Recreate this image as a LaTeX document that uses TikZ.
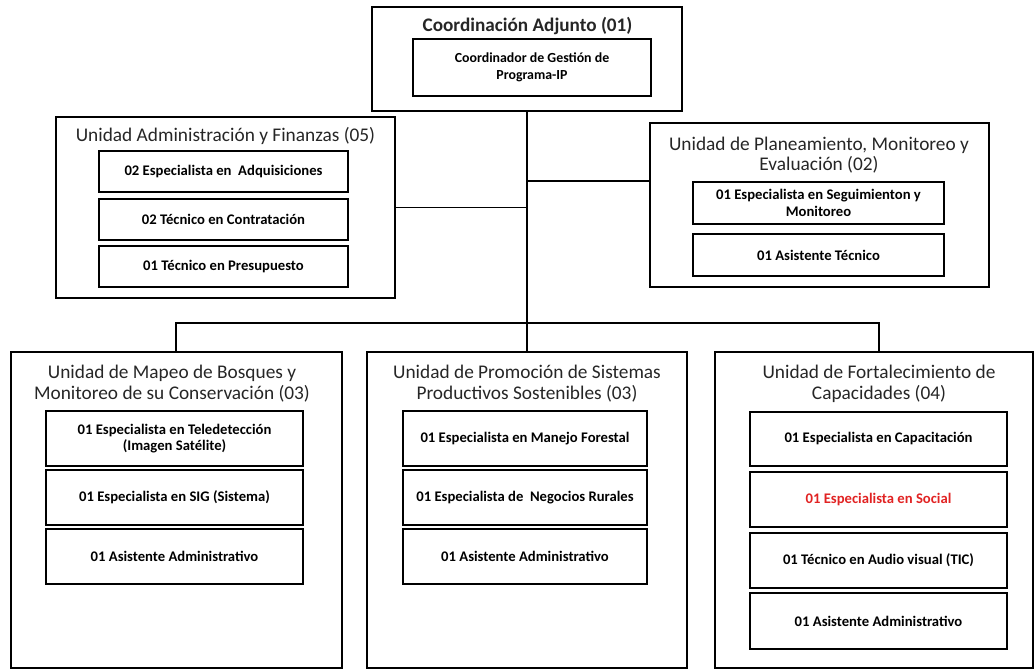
\documentclass[tikz,border=0pt]{standalone}
\usepackage{fontspec}
\setmainfont{Carlito}
\usetikzlibrary{calc}

\tikzset{
  unit/.style 2 args={draw,line width=0.9pt,minimum width=#1*0.75pt,minimum height=#2*0.75pt,inner sep=0pt},
  post/.style 2 args={draw,line width=0.9pt,minimum width=#1*0.75pt,minimum height=#2*0.75pt,inner sep=0pt,
    align=center,font=\fontsize{11}{12.5}\selectfont\bfseries},
  head/.style={align=center,text=black!85,font=\fontsize{14.5}{15.5}\selectfont},
}

\begin{document}
\begin{tikzpicture}[x=0.75pt,y=-0.75pt]

\useasboundingbox (0,0) rectangle (1035,671);

\coordinate (cBusL) at (176,323);
\coordinate (cBusR) at (879,323);
\coordinate (cPlan) at (650,181);

\node[unit={310}{104}] (C) at (527,59) {};
\node[unit={339}{181}] (A) at (225.5,207.5) {};
\node[unit={339}{164}] (P) at (819.5,205) {};
\node[unit={331}{316}] (M) at (176.5,510) {};
\node[unit={320}{316}] (S) at (527,510) {};
\node[unit={318}{316}] (F) at (874,510) {};

\node[head,font=\fontsize{14.4}{15.5}\selectfont\bfseries] (Ct) at (527.5,26) {Coordinación Adjunto (01)};
\node[head] (At) at (225.5,136) {Unidad Administración y Finanzas (05)};
\node[head] (Pt) at (819,155) {Unidad de Planeamiento, Monitoreo y\\Evaluación (02)};
\node[head] (Mt) at (172,383.5) {Unidad de Mapeo de Bosques y\\Monitoreo de su Conservación (03)};
\node[head] (St) at (527,383.5) {Unidad de Promoción de Sistemas\\Productivos Sostenibles (03)};
\node[head] (Ft) at (879,384) {Unidad de Fortalecimiento de\\Capacidades (04)};

\node[post={238}{57},font=\fontsize{10.4}{12.5}\selectfont\bfseries] (C1) at (532,67.5) {Coordinador de Gestión de\\Programa-IP};

\node[post={249}{41}] (A1) at (223.5,171.5) {02 Especialista en \ Adquisiciones};
\node[post={249}{41}] (A2) at (223.5,219.5) {02 Técnico en Contratación};
\node[post={249}{41}] (A3) at (223.5,266.5) {01 Técnico en Presupuesto};

\node[post={251}{42}] (P1) at (818.5,203) {01 Especialista en Seguimienton y\\Monitoreo};
\node[post={251}{42}] (P2) at (818.5,255) {01 Asistente Técnico};

\node[post={257}{55}] (M1) at (174.5,438.5) {01 Especialista en Teledetección\\(Imagen Satélite)};
\node[post={257}{55}] (M2) at (174.5,497.5) {01 Especialista en SIG (Sistema)};
\node[post={257}{55}] (M3) at (174.5,556.5) {01 Asistente Administrativo};

\node[post={244}{55}] (S1) at (525,438.5) {01 Especialista en Manejo Forestal};
\node[post={244}{55}] (S2) at (525,497.5) {01 Especialista de \ Negocios Rurales};
\node[post={244}{55}] (S3) at (525,556.5) {01 Asistente Administrativo};

\node[post={257}{54}] (F1) at (878.5,439) {01 Especialista en Capacitación};
\node[post={257}{55},text={rgb,255:red,225;green,35;blue,35}] (F2) at (878.5,499.5) {01 Especialista en Social};
\node[post={257}{55}] (F3) at (878.5,560.5) {01 Técnico en Audio visual (TIC)};
\node[post={257}{56}] (F4) at (878.5,621) {01 Asistente Administrativo};

\draw[line width=0.9pt] (C.south) -- (S.north);
\draw[line width=0.9pt] (A.east) -- (A.east -| C.south);
\draw[line width=0.9pt] (cPlan) -- (cPlan -| C.south);
\draw[line width=0.9pt] (M.north -| cBusL) -- (cBusL) -- (cBusR) -- (F.north -| cBusR);

\end{tikzpicture}
\end{document}
